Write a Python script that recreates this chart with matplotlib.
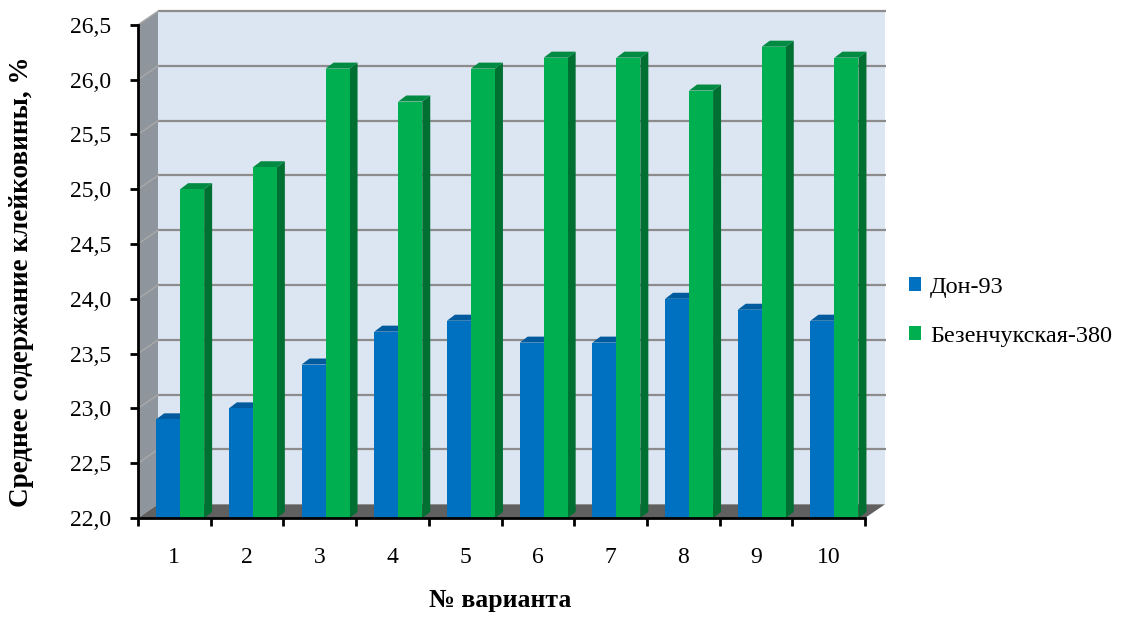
import matplotlib
matplotlib.use("Agg")
import matplotlib.pyplot as plt
from matplotlib.patches import Polygon, Rectangle

plt.rcParams['font.family'] = ['Liberation Serif', 'DejaVu Serif']

# --- data ---------------------------------------------------------------
categories = ['1', '2', '3', '4', '5', '6', '7', '8', '9', '10']
don93 = [22.9, 23.0, 23.4, 23.7, 23.8, 23.6, 23.6, 24.0, 23.9, 23.8]
bezench380 = [25.0, 25.2, 26.1, 25.8, 26.1, 26.2, 26.2, 25.9, 26.3, 26.2]
series_names = ['Дон-93', 'Безенчукская-380']
y_ticks = [22.0, 22.5, 23.0, 23.5, 24.0, 24.5, 25.0, 25.5, 26.0, 26.5]

# --- styling ------------------------------------------------------------
front_cols = ['#0070C0', '#00B050']
side_cols = ['#00508c', '#007032']
top_cols = ['#005a9e', '#008a42']
wall_col = '#dce6f2'
side_wall_col = '#8e959c'
floor_col = '#606060'
grid_col = '#8c8c8c'

ymin, ymax = y_ticks[0], y_ticks[-1]
n = len(categories)

# depth of the chart box (back wall offset) and of each bar, in data units
wall_dx, wall_dy = 0.275, 0.125
bar_dx, bar_dy = 0.11, 0.055
bar_w = 0.33
offsets = [-0.085, 0.245]

W, H = 1136, 617
fig = plt.figure(figsize=(W / 100, H / 100), dpi=100)
ax = fig.add_axes([138 / W, 99 / H, 756 / W, 513 / H])
ax.set_xlim(0, 756 / 72.7)
ax.set_ylim(ymin, ymin + 513 / 109.6)

# side wall
ax.add_patch(Polygon([(0, ymin), (wall_dx, ymin + wall_dy),
                      (wall_dx, ymax + wall_dy), (0, ymax)],
                     closed=True, facecolor=side_wall_col, edgecolor='none', zorder=1))
# back wall
ax.add_patch(Rectangle((wall_dx, ymin + wall_dy), n, ymax - ymin,
                       facecolor=wall_col, edgecolor='none', zorder=1))
# floor
ax.add_patch(Polygon([(0, ymin), (n, ymin), (n + wall_dx, ymin + wall_dy),
                      (wall_dx, ymin + wall_dy)],
                     closed=True, facecolor=floor_col, edgecolor='none', zorder=2))

# gridlines on back and side walls
for v in y_ticks[1:]:
    ax.plot([wall_dx, n + wall_dx + 0.02], [v + wall_dy, v + wall_dy],
            color=grid_col, lw=1.6, zorder=2, solid_capstyle='butt')
    ax.plot([0, wall_dx], [v, v + wall_dy], color='#a9a9a9', lw=1.0, zorder=2)

# bars: right side face and top face, then the front face from ax.bar
for s, vals in enumerate([don93, bezench380]):
    xs = [i + 0.5 + offsets[s] for i in range(n)]
    for i, v in enumerate(vals):
        x0 = xs[i] - bar_w / 2
        x1 = x0 + bar_w
        z = 10 + 4 * i + 2 * s
        ax.add_patch(Polygon([(x1, ymin), (x1 + bar_dx, ymin + bar_dy),
                              (x1 + bar_dx, v + bar_dy), (x1, v)],
                             closed=True, facecolor=side_cols[s], edgecolor='none',
                             zorder=z))
        ax.add_patch(Polygon([(x0, v), (x1, v), (x1 + bar_dx, v + bar_dy),
                              (x0 + bar_dx, v + bar_dy)],
                             closed=True, facecolor=top_cols[s], edgecolor='none',
                             zorder=z))
    bars = ax.bar(xs, [v - ymin for v in vals], bottom=ymin, width=bar_w,
                  color=front_cols[s], edgecolor='none', label=series_names[s])
    for i, p in enumerate(bars):
        p.set_zorder(10 + 4 * i + 2 * s + 1)

# axes lines and ticks
for side in ['top', 'right']:
    ax.spines[side].set_visible(False)
ax.spines['left'].set_bounds(ymin, ymax)
ax.spines['bottom'].set_bounds(0, n)
for side in ['left', 'bottom']:
    ax.spines[side].set_linewidth(2)
    ax.spines[side].set_zorder(60)

ax.set_yticks(y_ticks)
ax.set_yticklabels([f'{t:.1f}'.replace('.', ',') for t in y_ticks], fontsize=17)
ax.set_xticks(range(n + 1))
ax.set_xticklabels([''] * (n + 1))
ax.set_xticks([i + 0.5 for i in range(n)], minor=True)
ax.set_xticklabels(categories, minor=True, fontsize=17)
ax.tick_params(axis='both', which='major', direction='out', length=6, width=2)
ax.tick_params(axis='x', which='minor', length=0, pad=21)
ax.tick_params(axis='y', pad=13)

fig.text(500 / W, 1 - 601 / H, '№ варианта', ha='center', va='center',
         fontsize=18.5, fontweight='bold')
fig.text(22 / W, 1 - 282 / H, 'Среднее содержание клейковины, %',
         rotation=90, ha='center', va='center', fontsize=19.5, fontweight='bold')

handles, labels = ax.get_legend_handles_labels()
fig.legend(handles, labels, loc='center left', bbox_to_anchor=(897 / W, 1 - 312 / H),
           frameon=False, fontsize=17.5, handlelength=0.5, handleheight=0.5,
           handletextpad=0.35, labelspacing=1.15, borderpad=0)

fig.savefig('out.png', dpi=100)
